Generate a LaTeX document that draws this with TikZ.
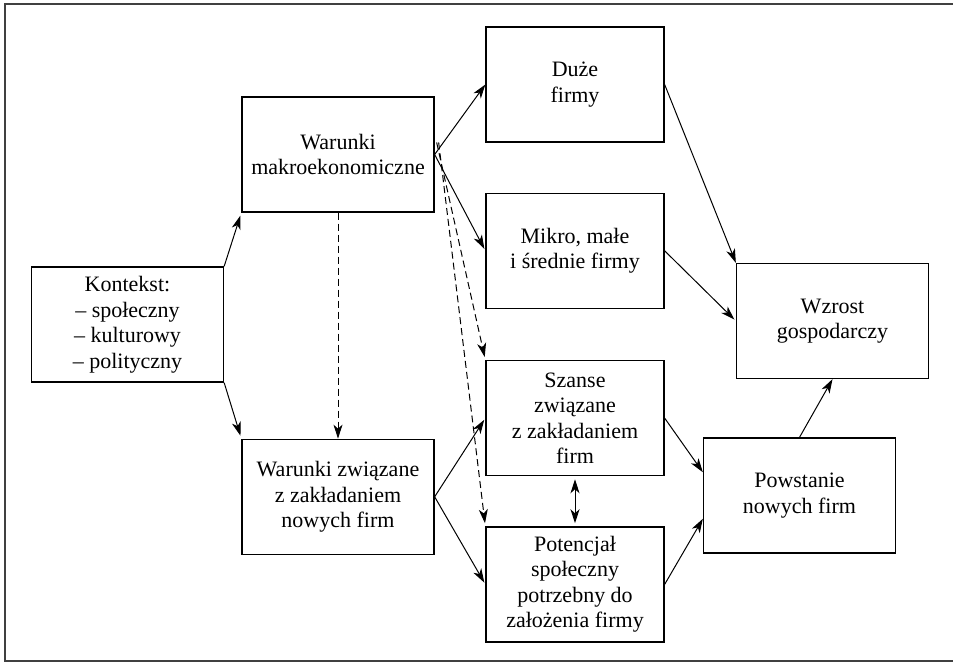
\documentclass[tikz,border=0pt]{standalone}
\usepackage{fontspec}
\setmainfont{Liberation Serif}
\usetikzlibrary{shapes,arrows.meta,positioning,calc}

\begin{document}
\begin{tikzpicture}[
    x=1pt, y=-1pt,
    box/.style={rectangle, draw, line width=1.3pt, minimum width=178pt, minimum height=115pt, align=center, inner sep=2pt, font=\fontsize{22}{25.5}\selectfont},
    widebox/.style={box, minimum width=192pt},
    arrow/.style={-{Stealth[length=14pt,width=9pt,inset=4pt]}, line width=1pt},
    dasharrow/.style={arrow, dash pattern=on 7pt off 4pt},
    twoway/.style={{Stealth[length=14pt,width=9pt,inset=4pt]}-{Stealth[length=14pt,width=9pt,inset=4pt]}, line width=1pt}
]
    \useasboundingbox (0,0) rectangle (953,663);
    % Frame
    \draw[line width=1.6pt, black!75] (953,4) -- (5,4) -- (5,661) -- (953,661);

    % Nodes
    \node[widebox] (K) at (127.5,324.5) {Kontekst:\\ -- społeczny\\ -- kulturowy\\ -- polityczny};
    \node[widebox] (M) at (338,154.5) {Warunki\\ makroekonomiczne};
    \node[widebox, below=226pt of M] (W) {Warunki związane\\ z zakładaniem\\ nowych firm};
    \node[box] (D) at (575,84.5) {Duże\\ firmy};
    \node[box, below=50pt of D] (MSP) {Mikro, małe\\ i średnie firmy};
    \node[box, below=51pt of MSP] (Sz) {Szanse\\ związane\\ z zakładaniem\\ firm};
    \node[box, below=50pt of Sz] (P) {Potencjał\\ społeczny\\ potrzebny do\\ założenia firmy};
    \node[widebox] (G) at (832.5,321) {Wzrost\\ gospodarczy};
    \node[widebox] (N) at (799.5,495.5) {Powstanie\\ nowych firm};

    % Arrows
    \draw[arrow, shorten >=3pt] (K.north east) -- (M.south west);
    \draw[arrow, shorten >=3pt] (K.south east) -- (W.north west);
    \draw[arrow] (M.east) -- (D.west);
    \draw[arrow, shorten >=2pt] (M.east) -- (MSP.west);
    \draw[dasharrow] (M.south) -- (W.north);
    \draw[dasharrow, shorten >=3pt] ([xshift=2pt,yshift=12pt]M.east) -- (Sz.north west);
    \draw[dasharrow, shorten >=3pt] ([xshift=4pt,yshift=12pt]M.east) -- (P.north west);
    \draw[arrow, shorten >=2pt] (W.east) -- (Sz.west);
    \draw[arrow, shorten >=2pt] (W.east) -- (P.west);
    \draw[twoway, shorten <=3pt, shorten >=3pt] (Sz.south) -- (P.north);
    \draw[arrow] (D.east) -- (G.north west);
    \draw[arrow, shorten >=2pt] (MSP.east) -- (G.west);
    \draw[arrow] (Sz.east) -- ($(N.north west)!0.3!(N.south west)$);
    \draw[arrow] (P.east) -- ($(N.north west)!0.7!(N.south west)$);
    \draw[arrow] (N.north) -- (G.south);
\end{tikzpicture}
\end{document}
